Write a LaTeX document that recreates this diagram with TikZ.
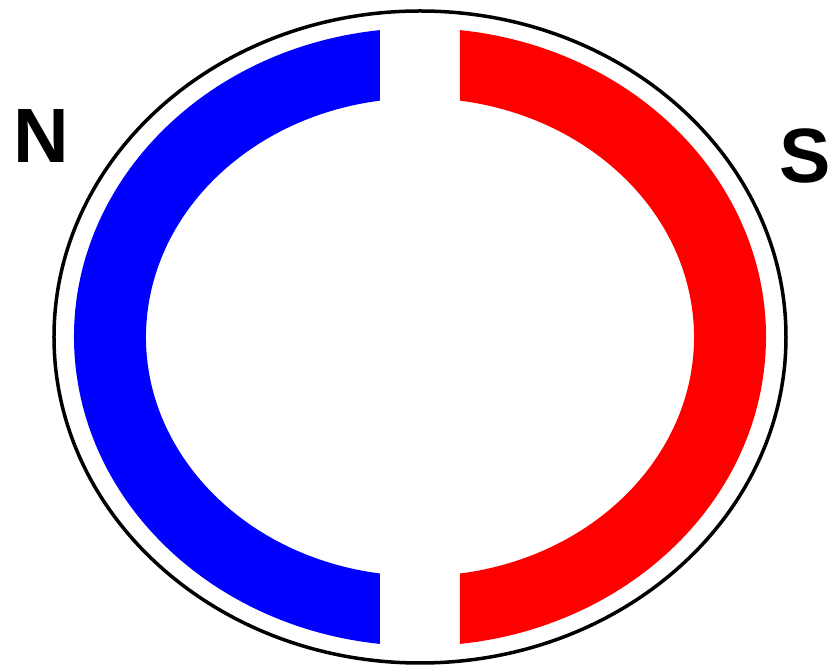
\documentclass[tikz,border=0pt]{standalone}
\usepackage{fontspec}
\setmainfont{Liberation Sans}
\usepackage{xcolor}
\definecolor{npole}{HTML}{0000FF}
\definecolor{spole}{HTML}{FF0000}

\begin{document}
\begin{tikzpicture}[x=1pt, y=1pt,
        lbl/.style={inner sep=0pt, font=\fontsize{77}{80}\selectfont\bfseries},
        shell/.style={draw=black, line width=3.5pt}]
      \useasboundingbox (-420,-334) rectangle (413,337);
      % outer casing
      \draw[shell] (0,0) ellipse [x radius=366, y radius=326];
      % north half
      \fill[npole] (-40,306.9) arc[start angle=96.64, end angle=263.36, x radius=346, y radius=309]
        -- (-40,-236.5) arc[start angle=261.61, end angle=98.39, x radius=274, y radius=239] -- cycle;
      % south half
      \fill[spole] (40,306.9) arc[start angle=83.36, end angle=-83.36, x radius=346, y radius=309]
        -- (40,-236.5) arc[start angle=-81.61, end angle=81.61, x radius=274, y radius=239] -- cycle;
      \node[lbl] (n) at (-379,201) {N};
      \node[lbl] (s) at (385,181) {S};
    \end{tikzpicture}
\end{document}
